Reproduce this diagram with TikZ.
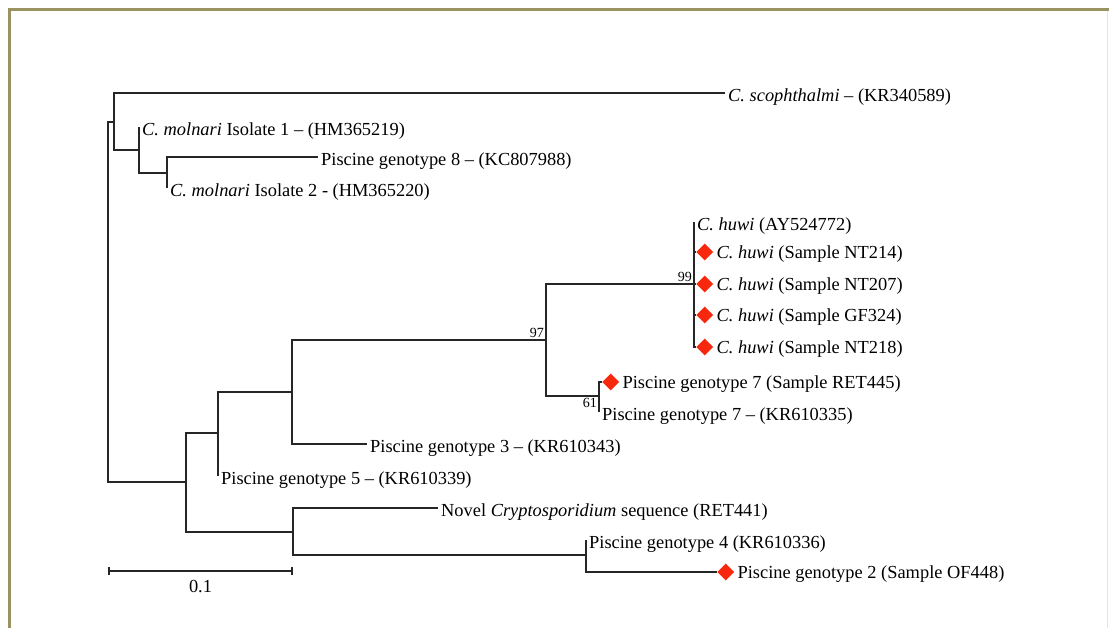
\documentclass[tikz,border=0pt]{standalone}
\usepackage{fontspec}
\setmainfont{Liberation Serif}
\usetikzlibrary{positioning,shapes.geometric}
\definecolor{framecol}{HTML}{9B9262}
\definecolor{samplered}{HTML}{F8280E}
\tikzset{
  branch/.style={draw=black!85,line width=1.3pt},
  leaf/.style={anchor=west,inner sep=3pt,text height=21pt,text depth=4pt,font=\fontsize{18.4}{21}\selectfont},
  sampletext/.style={leaf,text height=17pt},
  sample/.style={diamond,anchor=west,fill=samplered,inner sep=0pt,minimum width=17pt,minimum height=17pt},
  boot/.style={inner sep=2pt,font=\fontsize{14}{16}\selectfont}
}
\begin{document}
\begin{tikzpicture}[x=1pt,y=-1pt]
  \useasboundingbox (0,0) rectangle (1109,628);
  \draw[framecol,line width=3pt] (1109,10) -- (9.5,10) -- (9.5,628);
  \draw[gray!20,line width=1pt] (1107,11.5) -- (1107,628);
  % inner nodes
  \coordinate (r) at (108,300);
  \coordinate (a) at (114,122);
  \coordinate (c) at (139,150);
  \coordinate (d) at (167,173);
  \coordinate (b) at (186,482);
  \coordinate (e) at (218,433);
  \coordinate (g) at (292,392);
  \coordinate (h) at (546,340);
  \coordinate (i) at (694,284);
  \coordinate (j) at (599,396);
  \coordinate (f) at (293,532);
  \coordinate (k) at (586,555);
  % leaves
  \node[leaf] (scoph) at (725,93) {\emph{C. scophthalmi} -- (KR340589)};
  \node[leaf] (mol1) at (139,127) {\emph{C. molnari} Isolate 1 -- (HM365219)};
  \node[leaf] (pg8) at (318,157) {Piscine genotype 8 -- (KC807988)};
  \node[leaf] (mol2) at (167,188) {\emph{C. molnari} Isolate 2 - (HM365220)};
  \node[leaf] (hw1) at (694,222) {\emph{C. huwi} (AY524772)};
  \node[sample] (d1) at (696,252) {};
  \node[sampletext,right=0pt of d1] (hw2) {\emph{C. huwi} (Sample NT214)};
  \node[sample] (d2) at (696,284) {};
  \node[sampletext,right=0pt of d2] (hw3) {\emph{C. huwi} (Sample NT207)};
  \node[sample] (d3) at (696,315) {};
  \node[sampletext,right=0pt of d3] (hw4) {\emph{C. huwi} (Sample GF324)};
  \node[sample] (d4) at (696,347) {};
  \node[sampletext,right=0pt of d4] (hw5) {\emph{C. huwi} (Sample NT218)};
  \node[sample] (d5) at (602,382) {};
  \node[sampletext,right=0pt of d5] (pg7s) {Piscine genotype 7 (Sample RET445)};
  \node[leaf] (pg7) at (599,412) {Piscine genotype 7 -- (KR610335)};
  \node[leaf] (pg3) at (367,444) {Piscine genotype 3 -- (KR610343)};
  \node[leaf] (pg5) at (218,476) {Piscine genotype 5 -- (KR610339)};
  \node[leaf] (novel) at (438,508) {Novel \emph{Cryptosporidium} sequence (RET441)};
  \node[leaf] (pg4) at (586,540) {Piscine genotype 4 (KR610336)};
  \node[sample] (d6) at (717,572) {};
  \node[sampletext,right=0pt of d6] (pg2) {Piscine genotype 2 (Sample OF448)};
  % bootstrap values
  \node[boot,above left] at (h) {97};
  \node[boot,above left] at (i) {99};
  \node[boot,below left] at (j) {61};
  \begin{scope}[branch]
    \draw (r) |- (a);
    \draw (r) |- (b);
    \draw (a) |- (scoph);
    \draw (a) |- (c);
    \draw (c) |- (mol1);
    \draw (c) |- (d);
    \draw (d) |- (pg8);
    \draw (d) |- (mol2);
    \draw (b) |- (e);
    \draw (b) |- (f);
    \draw (e) |- (g);
    \draw (e) |- (pg5);
    \draw (g) |- (h);
    \draw (g) |- (pg3);
    \draw (h) |- (i);
    \draw (h) |- (j);
    \draw (i) |- (hw1);
    \draw (i) |- (d1);
    \draw (i) |- (d2);
    \draw (i) |- (d3);
    \draw (i) |- (d4);
    \draw (j) |- (d5);
    \draw (j) |- (pg7);
    \draw (f) |- (novel);
    \draw (f) |- (k);
    \draw (k) |- (pg4);
    \draw (k) |- (d6);
  \end{scope}
  % scale bar
  \coordinate (s0) at (109,571);
  \coordinate (s1) at (292,571);
  \draw[branch] (s0) -- (s1);
  \draw[branch] ([yshift=-4pt]s0) -- ([yshift=4pt]s0);
  \draw[branch] ([yshift=-4pt]s1) -- ([yshift=4pt]s1);
  \node[inner sep=0pt,font=\fontsize{18.4}{21}\selectfont] (scale) at (200.5,587) {0.1};
\end{tikzpicture}
\end{document}
